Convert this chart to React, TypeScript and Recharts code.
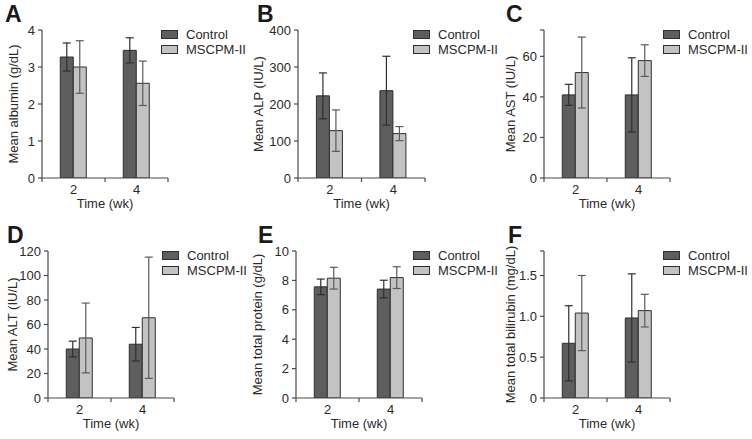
import React from 'react';
import { BarChart, Bar, XAxis, YAxis, ErrorBar, Legend } from 'recharts';

// ---- data ----
const weeks = ['2', '4'];
const seriesNames = ['Control', 'MSCPM-II'];

const albuminControl = [3.27, 3.45];
const albuminControlSD = [0.38, 0.34];
const albuminMscpm = [3.0, 2.56];
const albuminMscpmSD = [0.71, 0.6];
const albuminTicks = [0, 1, 2, 3, 4];

const alpControl = [222, 236];
const alpControlSD = [62, 93];
const alpMscpm = [128, 120];
const alpMscpmSD = [56, 19];
const alpTicks = [0, 100, 200, 300, 400];

const astControl = [41, 41];
const astControlSD = [5.2, 18.3];
const astMscpm = [52, 57.9];
const astMscpmSD = [17.5, 7.8];
const astTicks = [0, 20, 40, 60, 73];

const altControl = [40, 43.9];
const altControlSD = [6.4, 13.7];
const altMscpm = [49, 65.5];
const altMscpmSD = [28.5, 49.5];
const altTicks = [0, 20, 40, 60, 80, 100, 120];

const proteinControl = [7.56, 7.41];
const proteinControlSD = [0.53, 0.6];
const proteinMscpm = [8.15, 8.19];
const proteinMscpmSD = [0.74, 0.74];
const proteinTicks = [0, 2, 4, 6, 8, 10];

const bilirubinControl = [0.67, 0.98];
const bilirubinControlSD = [0.46, 0.54];
const bilirubinMscpm = [1.04, 1.07];
const bilirubinMscpmSD = [0.46, 0.2];
const bilirubinTicks = [0, 0.5, 1.0, 1.5, 1.8];

// ---- styles ----
const AXIS = '#4a4a4a';
const TEXT = '#2a2a2a';
const CONTROL_FILL = '#5e5e5e';
const MSCPM_FILL = '#c3c3c3';
const BAR_STROKE = '#2e2e2e';
const CONTROL_ERR = '#2e2e2e';
const MSCPM_ERR = '#5a5a5a';
const FONT = '"Liberation Sans", Arial, sans-serif';
const X_TICK_SIZE = 4;
const X_TICK_MARGIN = 3;
const FONT_SIZE = 13;

function makeRows(cm: number[], csd: number[], mm: number[], msd: number[]) {
  return weeks.map((w, i) => ({
    week: w,
    control: cm[i],
    controlErr: csd[i],
    mscpm: mm[i],
    mscpmErr: msd[i],
  }));
}

const intFmt = (v: number) => String(v);

const panels = [
  {
    letter: 'A', left: 0, top: 0, width: 250, yWidth: 42, mTop: 30, mRight: 82,
    legX: 161, legY: 27, labelX: 13, letterX: 5, letterTop: 3,
    yLabel: 'Mean albumin (g/dL)', ticks: albuminTicks, domain: [0, 4],
    fmt: intFmt,
    data: makeRows(albuminControl, albuminControlSD, albuminMscpm, albuminMscpmSD),
  },
  {
    letter: 'B', left: 250, top: 0, width: 250, yWidth: 48, mTop: 30, mRight: 75,
    legX: 163, legY: 27, labelX: 8, letterX: 257, letterTop: 3,
    yLabel: 'Mean ALP (IU/L)', ticks: alpTicks, domain: [0, 400],
    fmt: intFmt,
    data: makeRows(alpControl, alpControlSD, alpMscpm, alpMscpmSD),
  },
  {
    letter: 'C', left: 500, top: 0, width: 252, yWidth: 44, mTop: 30, mRight: 82,
    legX: 163, legY: 27, labelX: 10, letterX: 506, letterTop: 3,
    yLabel: 'Mean AST (IU/L)', ticks: astTicks, domain: [0, 73],
    fmt: (v: number) => (v === 73 ? '' : String(v)),
    data: makeRows(astControl, astControlSD, astMscpm, astMscpmSD),
  },
  {
    letter: 'D', left: 0, top: 220, width: 250, yWidth: 48, mTop: 31, mRight: 76,
    legX: 162, legY: 28, labelX: 12, letterX: 7, letterTop: 224,
    yLabel: 'Mean ALT (IU/L)', ticks: altTicks, domain: [0, 120],
    fmt: intFmt,
    data: makeRows(altControl, altControlSD, altMscpm, altMscpmSD),
  },
  {
    letter: 'E', left: 250, top: 220, width: 250, yWidth: 46, mTop: 31, mRight: 78,
    legX: 163, legY: 28, labelX: 7, letterX: 258, letterTop: 224,
    yLabel: 'Mean total protein (g/dL)', ticks: proteinTicks, domain: [0, 10],
    fmt: intFmt,
    data: makeRows(proteinControl, proteinControlSD, proteinMscpm, proteinMscpmSD),
  },
  {
    letter: 'F', left: 500, top: 220, width: 252, yWidth: 44, mTop: 31, mRight: 82,
    legX: 163, legY: 28, labelX: 10, letterX: 508, letterTop: 224,
    yLabel: 'Mean total bilirubin (mg/dL)', ticks: bilirubinTicks, domain: [0, 1.8],
    fmt: (v: number) => (v === 0 ? '0' : v === 1.8 ? '' : v.toFixed(1)),
    data: makeRows(bilirubinControl, bilirubinControlSD, bilirubinMscpm, bilirubinMscpmSD),
  },
];

const legendFills = [CONTROL_FILL, MSCPM_FILL];

function LegendBox() {
  return (
    <div>
      {seriesNames.map((name, i) => (
        <div key={name} style={{ display: 'flex', alignItems: 'center', height: 15 }}>
          <div
            style={{
              width: 17,
              height: 9,
              background: legendFills[i],
              border: `1px solid ${BAR_STROKE}`,
              boxSizing: 'border-box',
            }}
          />
          <span style={{ marginLeft: 8, fontSize: FONT_SIZE, color: TEXT, lineHeight: '15px', whiteSpace: 'nowrap' }}>
            {name}
          </span>
        </div>
      ))}
    </div>
  );
}

// Category tick: label at group centre, tick marks at the band edges (GraphPad style)
function CategoryTick(props: any) {
  const { x, y, payload, index, visibleTicksCount } = props;
  const off = payload && payload.offset ? payload.offset : 0;
  const axisY = y - X_TICK_SIZE - X_TICK_MARGIN;
  const count = visibleTicksCount || weeks.length;
  return (
    <g>
      <line x1={x - off} x2={x - off} y1={axisY} y2={axisY + X_TICK_SIZE} stroke={AXIS} strokeWidth={1.2} />
      {index === count - 1 && (
        <line x1={x + off} x2={x + off} y1={axisY} y2={axisY + X_TICK_SIZE} stroke={AXIS} strokeWidth={1.2} />
      )}
      <text x={x} y={y} dy="0.71em" textAnchor="middle" fill={TEXT} fontSize={FONT_SIZE}>
        {payload.value}
      </text>
    </g>
  );
}

function Panel({ p }: { p: any }) {
  const yLabelContent = (props: any) => {
    const vb = props.viewBox || {};
    const cy = (vb.y || 0) + (vb.height || 0) / 2;
    const cx = p.labelX;
    return (
      <text
        x={cx}
        y={cy}
        transform={`rotate(-90, ${cx}, ${cy})`}
        textAnchor="middle"
        dominantBaseline="central"
        fill={TEXT}
        fontSize={FONT_SIZE}
      >
        {p.yLabel}
      </text>
    );
  };
  return (
    <div style={{ position: 'absolute', left: p.left, top: p.top }}>
      <BarChart
        width={p.width}
        height={220}
        data={p.data}
        margin={{ top: p.mTop, right: p.mRight, bottom: 12, left: 0 }}
        barCategoryGap="29%"
        barGap={0}
      >
        <XAxis
          dataKey="week"
          height={30}
          tickLine={false}
          tickSize={X_TICK_SIZE}
          tickMargin={X_TICK_MARGIN}
          axisLine={{ stroke: AXIS, strokeWidth: 1.2 }}
          tick={<CategoryTick />}
          interval={0}
          label={{ value: 'Time (wk)', position: 'insideBottom', offset: 0, fill: TEXT, fontSize: FONT_SIZE }}
        />
        <YAxis
          width={p.yWidth}
          domain={p.domain}
          ticks={p.ticks}
          interval={0}
          allowDataOverflow
          tickFormatter={p.fmt}
          tickSize={4}
          tickMargin={3}
          axisLine={{ stroke: AXIS, strokeWidth: 1.2 }}
          tickLine={{ stroke: AXIS, strokeWidth: 1.2 }}
          tick={{ fill: TEXT, fontSize: FONT_SIZE }}
          label={{ content: yLabelContent }}
        />
        <Legend
          layout="vertical"
          align="center"
          verticalAlign="middle"
          wrapperStyle={{ left: p.legX, top: p.legY, width: 'auto' }}
          content={() => <LegendBox />}
        />
        <Bar
          dataKey="control"
          name={seriesNames[0]}
          fill={CONTROL_FILL}
          stroke={BAR_STROKE}
          strokeWidth={1}
          isAnimationActive={false}
        >
          <ErrorBar dataKey="controlErr" width={4} stroke={CONTROL_ERR} strokeWidth={1.2} direction="y" isAnimationActive={false} />
        </Bar>
        <Bar
          dataKey="mscpm"
          name={seriesNames[1]}
          fill={MSCPM_FILL}
          stroke={BAR_STROKE}
          strokeWidth={1}
          isAnimationActive={false}
        >
          <ErrorBar dataKey="mscpmErr" width={4} stroke={MSCPM_ERR} strokeWidth={1.2} direction="y" isAnimationActive={false} />
        </Bar>
      </BarChart>
    </div>
  );
}

export default function App() {
  return (
    <div
      style={{
        position: 'absolute',
        left: 0,
        top: 0,
        width: 752,
        height: 439,
        background: '#ffffff',
        fontFamily: FONT,
        overflow: 'hidden',
      }}
    >
      {panels.map((p) => (
        <Panel key={p.letter} p={p} />
      ))}
      {panels.map((p) => (
        <div
          key={'L' + p.letter}
          style={{
            position: 'absolute',
            left: p.letterX,
            top: p.letterTop,
            fontSize: 23,
            fontWeight: 'bold',
            lineHeight: 1,
            color: '#1a1a1a',
            fontFamily: FONT,
          }}
        >
          {p.letter}
        </div>
      ))}
    </div>
  );
}
